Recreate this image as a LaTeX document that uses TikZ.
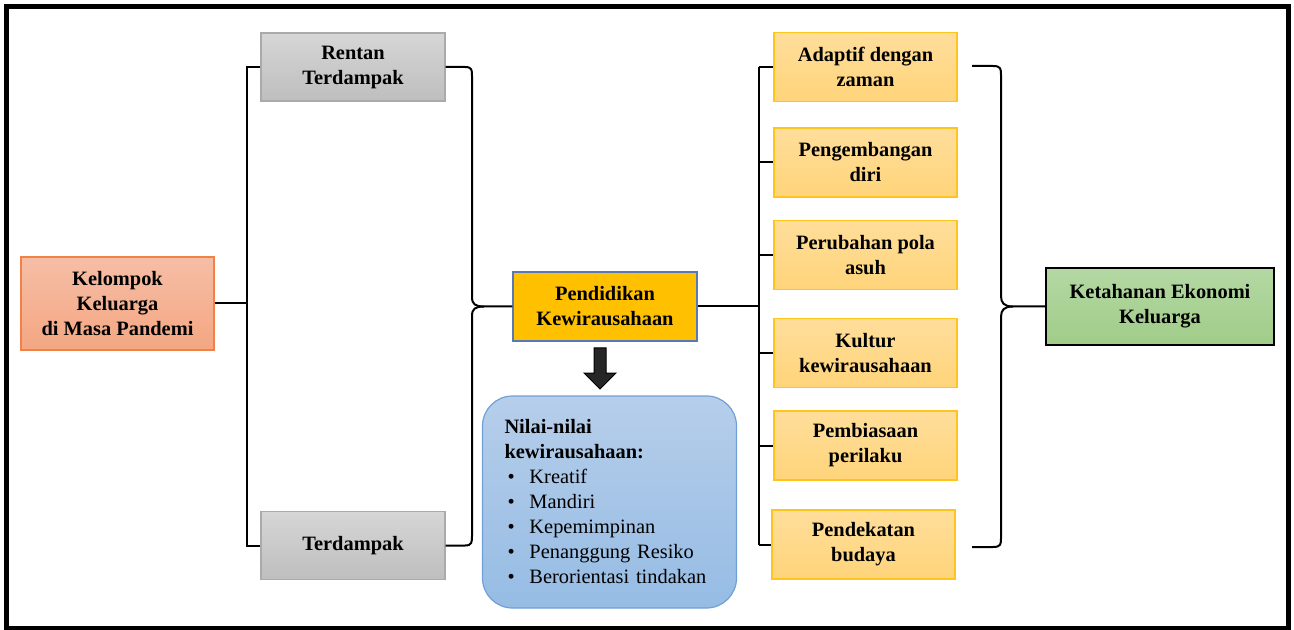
\documentclass[tikz,border=0pt]{standalone}
\usepackage{fontspec}
\setmainfont{Liberation Serif}

\begin{document}
\begin{tikzpicture}[x=0.5pt, y=-0.5pt]
  \tikzset{
    box/.style={rectangle, align=center, inner sep=2pt, line width=0.6pt,
      font=\fontsize{10.2}{12.5}\selectfont\bfseries},
    groupbox/.style={box, draw={rgb,255:red,240;green,130;blue,70},
      top color={rgb,255:red,246;green,190;blue,166}, bottom color={rgb,255:red,244;green,166;blue,130},
      minimum width=96.5pt, minimum height=46.5pt},
    greybox/.style={box, draw={rgb,255:red,170;green,170;blue,170},
      top color={rgb,255:red,214;green,214;blue,214}, bottom color={rgb,255:red,190;green,190;blue,190},
      minimum width=92pt, minimum height=34pt},
    topic/.style={box, draw={rgb,255:red,90;green,120;blue,180}, fill={rgb,255:red,255;green,192;blue,0},
      minimum width=92pt, minimum height=34.5pt},
    aspect/.style={box, draw={rgb,255:red,255;green,196;blue,30},
      top color={rgb,255:red,255;green,222;blue,155}, bottom color={rgb,255:red,255;green,212;blue,122},
      minimum width=91.5pt, minimum height=34.5pt},
    result/.style={box, draw=black, line width=1pt,
      top color={rgb,255:red,180;green,216;blue,164}, bottom color={rgb,255:red,160;green,204;blue,136},
      minimum width=114pt, minimum height=38.5pt},
    valuebox/.style={rectangle, rounded corners=15pt, draw={rgb,255:red,112;green,160;blue,214}, line width=0.6pt,
      top color={rgb,255:red,182;green,206;blue,234}, bottom color={rgb,255:red,150;green,188;blue,228},
      minimum width=127pt, minimum height=106pt, text width=105pt, inner xsep=11pt, align=left,
      font=\fontsize{10.2}{12.5}\selectfont},
    link/.style={line width=1pt, draw=black},
    blockarrow/.style={draw=black, line width=0.5pt, fill={rgb,255:red,38;green,38;blue,38}}
  }
  \newcommand{\valueitem}[1]{\makebox[12.5pt][l]{\hspace{1.5pt}\textbullet}#1}

  \useasboundingbox (0,0) rectangle (1294,630);
  \draw[line width=2.5pt] (6.5,6.5) rectangle (1288,628);

  % left side
  \node[groupbox] (kel) at (117.5,303.5) {Kelompok\\Keluarga\\di Masa Pandemi};
  \node[greybox] (rentan) at (353,67) {Rentan\\Terdampak};
  \node[greybox] (terd) at (353,545.5) {Terdampak};
  \node[topic] (pk) at (605,306.5) {Pendidikan\\Kewirausahaan};
  \node[valuebox] (nilai) at (609.5,502) {\textbf{Nilai-nilai}\\\textbf{kewirausahaan:}\\
    \valueitem{Kreatif}\\\valueitem{Mandiri}\\\valueitem{Kepemimpinan}\\
    \valueitem{Penanggung Resiko}\\\valueitem{Berorientasi tindakan}};

  % right side
  \node[aspect] (a1) at (865.5,67) {Adaptif dengan\\zaman};
  \node[aspect] (a2) at (865.5,162.5) {Pengembangan\\diri};
  \node[aspect] (a3) at (865.5,255) {Perubahan pola\\asuh};
  \node[aspect] (a4) at (865.5,353) {Kultur\\kewirausahaan};
  \node[aspect] (a5) at (865.5,445.5) {Pembiasaan\\perilaku};
  \node[aspect] (a6) at (863.5,544.5) {Pendekatan\\budaya};
  \node[result] (keo) at (1160,306.5) {Ketahanan Ekonomi\\Keluarga};

  % tree lines
  \coordinate (ljoin) at (247,303.5);
  \draw[link] (kel.east) -- (ljoin);
  \draw[link] (rentan.west) -| (ljoin) |- (terd.west);
  \coordinate (rjoin) at (759,306.5);
  \draw[link] (pk.east) -- (rjoin);
  \draw[link] (rjoin |- a1.west) -- (rjoin |- a6.west);
  \foreach \b in {a1,a2,a3,a4,a5,a6}
    \draw[link] (rjoin |- \b.west) -- (\b.west);

  % braces
  \coordinate (ltip) at (484,306.5);
  \draw[link] (rentan.east) -- (465,67) .. controls (472,67) and (472,70) .. (472,76)
    -- (472,297) .. controls (472,304) and (475,306.5) .. (ltip) -- (pk.west);
  \draw[link] (terd.east) -- (465,545.5) .. controls (472,545.5) and (472,542) .. (472,536)
    -- (472,316) .. controls (472,309) and (475,306.5) .. (ltip);
  \coordinate (rb1) at (972,66);
  \coordinate (rb2) at (972,547);
  \coordinate (rtip) at (1013,306.5);
  \draw[link] (rb1) -- (993,66) .. controls (1001,66) and (1001,69) .. (1001,75)
    -- (1001,296) .. controls (1001,303) and (1004,306.5) .. (rtip) -- (keo.west);
  \draw[link] (rb2) -- (993,547) .. controls (1001,547) and (1001,544) .. (1001,538)
    -- (1001,317) .. controls (1001,310) and (1004,306.5) .. (rtip);

  % down arrow
  \draw[blockarrow] (594,348) -- (606,348) -- (606,373) -- (616,373) -- (600,389)
    -- (584,373) -- (594,373) -- cycle;
\end{tikzpicture}
\end{document}
